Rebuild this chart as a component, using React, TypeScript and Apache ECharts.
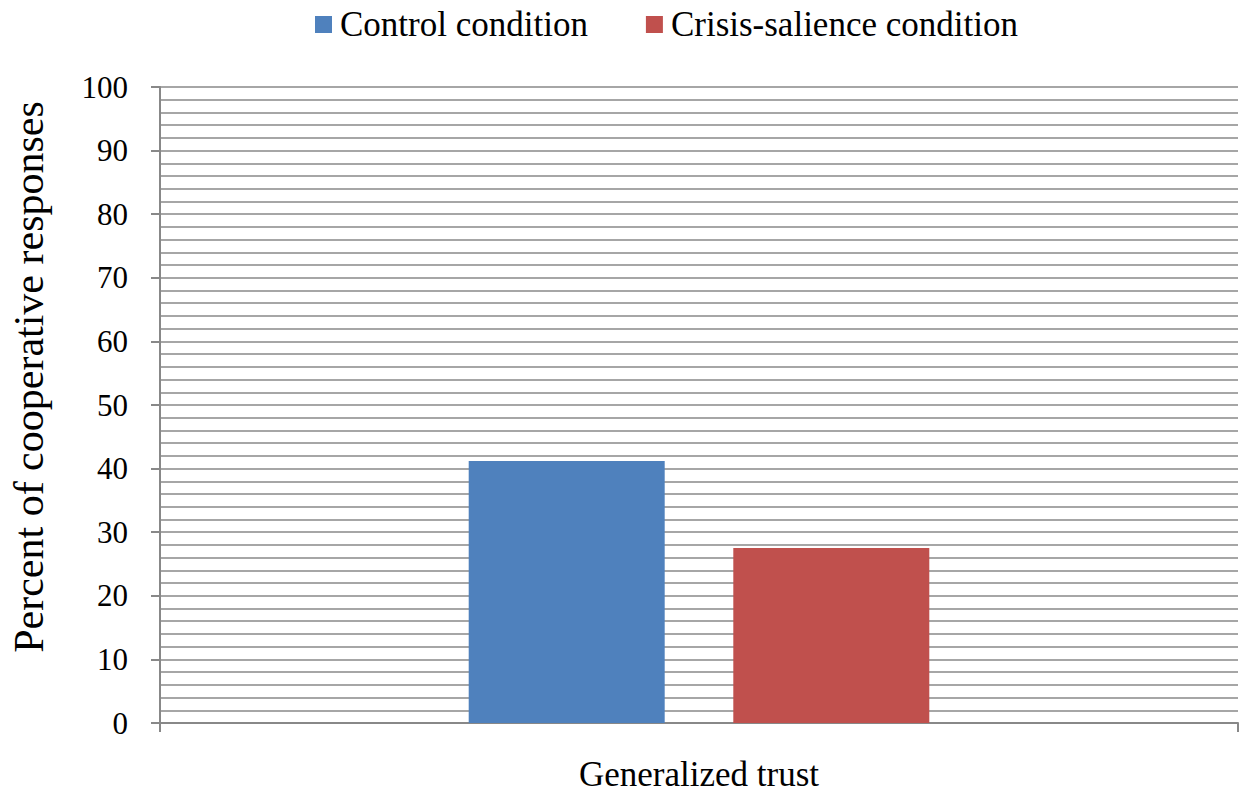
import React, { useEffect, useRef } from "react";
import * as echarts from "echarts";

const categories = ["Generalized trust"];
const seriesNames = ["Control condition", "Crisis-salience condition"];
const controlValues = [41.2];
const crisisValues = [27.5];
const colors = ["#4f81bd", "#c0504d"];
const yTitle = "Percent of cooperative responses";

export default function App() {
  const ref = useRef<HTMLDivElement>(null);
  useEffect(() => {
    document.body.style.margin = "0";
    const chart = echarts.init(ref.current!, null, { renderer: "svg" });
    const font = "'Liberation Serif', 'Times New Roman', serif";
    chart.setOption({
      animation: false,
      backgroundColor: "#ffffff",
      textStyle: { fontFamily: font },
      legend: {
        top: 2,
        left: 310,
        itemWidth: 17,
        itemHeight: 17,
        itemGap: 58,
        icon: "rect",
        textStyle: { fontFamily: font, fontSize: 35, color: "#000", padding: [0, 0, 0, 3] },
        data: seriesNames,
      },
      grid: { left: 160, right: 11, top: 87, bottom: 75, containLabel: false },
      graphic: [
        {
          type: "text",
          x: 29,
          y: 377,
          rotation: Math.PI / 2,
          style: {
            text: yTitle,
            fontFamily: font,
            fontSize: 42,
            fill: "#000",
            align: "center",
            verticalAlign: "middle",
          },
        },
      ],
      xAxis: {
        type: "category",
        data: categories,
        axisLine: { lineStyle: { color: "#888", width: 2 } },
        axisTick: { show: true, length: 9, lineStyle: { color: "#888", width: 2 } },
        axisLabel: { fontFamily: font, fontSize: 35, color: "#000", margin: 34 },
      },
      yAxis: {
        type: "value",
        min: 0,
        max: 100,
        interval: 10,
        axisLine: { show: true, lineStyle: { color: "#888", width: 2 } },
        axisTick: { show: true, length: 9, lineStyle: { color: "#888", width: 2 } },
        axisLabel: { fontFamily: font, fontSize: 31, color: "#000", margin: 32 },
        splitLine: { show: true, lineStyle: { color: "#a6a6a6", width: 2 } },
        minorTick: { show: false, splitNumber: 5 },
        minorSplitLine: { show: true, lineStyle: { color: "#a6a6a6", width: 2 } },
      },
      series: [
        {
          name: seriesNames[0],
          type: "bar",
          data: controlValues,
          barWidth: 196,
          barGap: "35%",
          itemStyle: { color: colors[0] },
        },
        {
          name: seriesNames[1],
          type: "bar",
          data: crisisValues,
          barWidth: 196,
          barGap: "35%",
          itemStyle: { color: colors[1] },
        },
      ],
    });
    return () => chart.dispose();
  }, []);
  return (
    <div
      ref={ref}
      style={{ position: "absolute", left: 0, top: 0, width: 1249, height: 798 }}
    />
  );
}
